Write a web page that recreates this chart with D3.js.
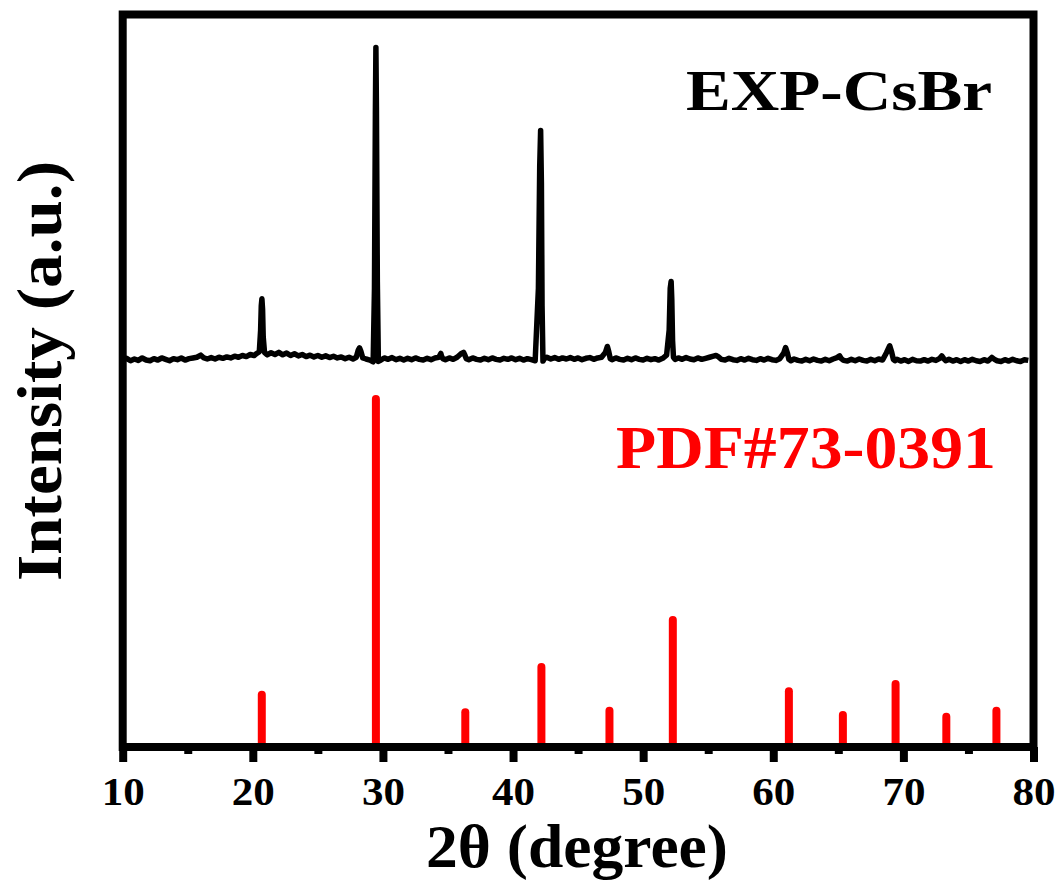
<!DOCTYPE html>
<html>
<head>
<meta charset="utf-8">
<script src="https://cdn.jsdelivr.net/npm/d3@7"></script>
<style>
  body { margin: 0; background: #fff; }
  svg text { font-family: "Liberation Serif", "Times New Roman", serif; font-weight: bold; }
</style>
</head>
<body>
<div id="chart"></div>
<script>
// reference pattern PDF#73-0391 (relative intensity, %)
var refTheta = [20.69, 29.46, 36.33, 42.18, 47.41, 52.28, 61.2, 65.35, 69.4, 73.3, 77.15];
var refIntensity = [15, 100, 10, 23, 10.4, 36.5, 16, 9.2, 18.1, 8.7, 10.4];

// measured pattern (arbitrary units, above its own baseline)
var expTheta = [
    10.0, 10.3, 10.6, 10.9, 11.2, 11.5, 11.8, 12.1, 12.4, 12.7, 13.0, 13.3, 13.6, 13.9, 14.2, 14.5, 14.8,
    15.1, 15.4, 15.7, 16.0, 16.2, 16.5, 16.8, 17.1, 17.4, 17.7, 18.0, 18.3, 18.6, 18.9, 19.2, 19.5, 19.8,
    20.1, 20.3, 20.5, 20.6, 20.65, 20.7, 20.75, 20.8, 20.9, 21.1, 21.4, 21.7, 22.0, 22.3, 22.6, 22.9,
    23.2, 23.5, 23.8, 24.1, 24.4, 24.7, 25.0, 25.3, 25.6, 25.9, 26.2, 26.5, 26.8, 27.1, 27.4, 27.7,
    27.95, 28.1, 28.2, 28.3, 28.45, 28.7, 29.0, 29.25, 29.35, 29.42, 29.46, 29.5, 29.57, 29.65, 29.85,
    30.1, 30.4, 30.7, 31.0, 31.3, 31.6, 31.9, 32.2, 32.5, 32.8, 33.1, 33.4, 33.7, 34.0, 34.3, 34.45, 34.5,
    34.6, 34.8, 35.1, 35.4, 35.7, 36.0, 36.2, 36.3, 36.4, 36.6, 36.9, 37.2, 37.5, 37.8, 38.1, 38.4, 38.7,
    39.0, 39.3, 39.6, 39.9, 40.2, 40.5, 40.8, 41.1, 41.4, 41.7, 41.95, 42.05, 42.12, 42.18, 42.23, 42.3,
    42.4, 42.6, 42.9, 43.2, 43.5, 43.8, 44.1, 44.4, 44.7, 45.0, 45.3, 45.6, 45.9, 46.2, 46.5, 46.8, 47.1,
    47.25, 47.36, 47.47, 47.6, 47.9, 48.2, 48.5, 48.8, 49.1, 49.4, 49.7, 50.0, 50.3, 50.6, 50.9, 51.2,
    51.5, 51.8, 52.0, 52.08, 52.15, 52.2, 52.26, 52.33, 52.45, 52.7, 53.0, 53.3, 53.6, 53.9, 54.2, 54.5,
    54.8, 55.1, 55.4, 55.6, 55.8, 56.0, 56.3, 56.6, 56.9, 57.2, 57.5, 57.8, 58.1, 58.4, 58.7, 59.0, 59.3,
    59.6, 59.9, 60.2, 60.5, 60.8, 60.95, 61.08, 61.2, 61.35, 61.6, 61.9, 62.2, 62.5, 62.8, 63.1, 63.4,
    63.7, 64.0, 64.3, 64.6, 64.9, 65.1, 65.23, 65.4, 65.7, 66.0, 66.3, 66.6, 66.9, 67.2, 67.5, 67.8,
    68.1, 68.4, 68.7, 68.95, 69.1, 69.23, 69.35, 69.5, 69.8, 70.1, 70.4, 70.7, 71.0, 71.3, 71.6, 71.9,
    72.2, 72.5, 72.8, 72.95, 73.1, 73.25, 73.5, 73.8, 74.1, 74.4, 74.7, 75.0, 75.3, 75.6, 75.9, 76.2,
    76.5, 76.8, 77.0, 77.2, 77.5, 77.8, 78.1, 78.4, 78.7, 79.0, 79.3, 79.6, 79.9
];
var expIntensity = [
    -0.6, -0.1, -0.8, -0.3, -0.7, 0.0, -0.6, -0.8, -0.2, -0.6, 0.0, -0.4, -0.8, -0.2, -0.5, 0.0, -0.6,
    -0.2, 0.0, 0.2, 0.8, 0.1, -0.3, 0.1, -0.3, 0.2, -0.1, 0.3, 0.0, 0.5, 0.2, 0.7, 0.4, 1.0,
    0.7, 1.3, 1.8, 8, 15, 17, 14, 6, 1.6, 0.9, 1.5, 1.0, 1.6, 0.9, 1.4, 0.7,
    1.2, 0.6, 1.0, 0.4, 0.8, 0.3, 0.7, 0.2, 0.6, 0.1, 0.5, 0.0, 0.3, -0.2, 0.2, -0.3,
    0.2, 2.2, 2.9, 2.0, 0.0, -0.3, -0.6, -1.1, 20, 70, 89.2, 72, 22, -1.0, -0.6,
    0.0, -0.4, 0.1, -0.5, -0.1, -0.6, -0.1, -0.5, 0.0, -0.4, -0.6, -0.1, -0.5, 0.0, 0.2, 1.3,
    0.6, -0.2, -0.5, 0.0, -0.4, 0.2, 1.2, 1.6, 0.8, -0.2, -0.5, 0.0, -0.4, -0.6, -0.1, -0.5, 0.0,
    -0.4, -0.6, -0.1, -0.4, 0.0, -0.5, -0.1, -0.6, -0.2, -0.5, -0.8, 20, 55, 65.4, 50, 15,
    -0.9, -0.2, 0.2, -0.3, 0.1, -0.4, 0.0, -0.3, 0.1, -0.4, 0.0, -0.5, -0.1, 0.1, -0.4, 0.0, 0.2,
    1.6, 3.3, 1.8, -0.2, -0.5, 0.0, -0.4, -0.6, -0.1, -0.5, 0.0, -0.4, -0.6, -0.1, -0.5, -0.2,
    -0.6, -0.1, 0.8, 8, 20, 22, 17, 5, 0.2, -0.4, 0.0, -0.4, 0.1, -0.3, -0.5, 0.0,
    -0.4, -0.1, 0.2, 0.5, 0.7, 0.3, -0.4, -0.6, -0.1, -0.5, -0.7, -0.2, -0.6, -0.1, -0.5, -0.7, -0.2,
    -0.6, -0.1, -0.5, -0.7, -0.2, 1.4, 3.0, 1.5, -0.4, -0.8, -0.3, -0.7, -0.9, -0.4, -0.8, -0.3,
    -0.7, -0.9, -0.4, -0.8, -0.3, 0.1, 0.6, -0.2, -0.7, -0.9, -0.4, -0.8, -0.3, -0.7, -0.9, -0.4,
    -0.8, -0.3, -0.6, 1.5, 3.5, 1.7, -0.4, -0.8, -0.4, -0.9, -0.5, -1.0, -0.4, -0.8, -0.9, -0.5,
    -0.9, -0.4, -0.7, -0.1, 0.6, -0.2, -0.8, -0.4, -0.9, -0.5, -1.0, -0.5, -0.9, -0.4, -0.8, -1.0,
    -0.5, -0.9, 0.15, -0.4, -0.8, -1.0, -0.5, -0.9, -0.4, -0.8, -1.0, -0.5, -0.7
];
var expOffset = 111.8;

var xTicks = [10, 20, 30, 40, 50, 60, 70, 80];
var xMinorTicks = [15, 25, 35, 45, 55, 65, 75];

var width = 1059, height = 883;
var svg = d3.select("#chart").append("svg")
    .attr("width", width)
    .attr("height", height);

var x = d3.scaleLinear().domain([10, 80]).range([122.7, 1033.5]);
var y = d3.scaleLinear().domain([0, 210.5]).range([747, 14.5]);

// PDF card sticks
svg.selectAll(".stick")
    .data(refTheta)
    .join("line")
    .attr("class", "stick")
    .attr("x1", function (d) { return x(d); })
    .attr("x2", function (d) { return x(d); })
    .attr("y1", y(0))
    .attr("y2", function (d, i) { return y(refIntensity[i]); })
    .attr("stroke", "#ff0000")
    .attr("stroke-width", 8)
    .attr("stroke-linecap", "round");

// measured XRD curve
var expData = expTheta.map(function (t, i) { return [t, expIntensity[i] + expOffset]; });
svg.append("path")
    .datum(expData)
    .attr("fill", "none")
    .attr("stroke", "#000")
    .attr("stroke-width", 5.5)
    .attr("stroke-linejoin", "round")
    .attr("d", d3.line()
        .x(function (d) { return x(d[0]); })
        .y(function (d) { return y(d[1]); }));

// frame
svg.append("rect")
    .attr("x", x(10))
    .attr("y", y(210.5))
    .attr("width", x(80) - x(10))
    .attr("height", y(0) - y(210.5))
    .attr("fill", "none")
    .attr("stroke", "#000")
    .attr("stroke-width", 8);

// bottom axis
var xAxis = svg.append("g")
    .attr("transform", "translate(0," + y(0) + ")")
    .call(d3.axisBottom(x).tickValues(xTicks).tickSize(15).tickPadding(14));
xAxis.select(".domain").remove();
xAxis.selectAll(".tick line").attr("stroke-width", 8).attr("y1", 0);
xAxis.selectAll(".tick text")
    .attr("font-size", 41)
    .attr("fill", "#000")
    .attr("transform", "scale(1.05,1)")
    .style("font-family", "'Liberation Serif', 'Times New Roman', serif")
    .style("font-weight", "bold");

var xMinor = svg.append("g")
    .attr("transform", "translate(0," + y(0) + ")")
    .call(d3.axisBottom(x).tickValues(xMinorTicks).tickSize(7).tickFormat(""));
xMinor.select(".domain").remove();
xMinor.selectAll(".tick line").attr("stroke-width", 8);

// axis titles
svg.append("text")
    .attr("x", 577)
    .attr("y", 867)
    .attr("text-anchor", "middle")
    .attr("font-size", 61)
    .attr("textLength", 302)
    .attr("lengthAdjust", "spacingAndGlyphs")
    .text("2θ (degree)");

svg.append("text")
    .attr("transform", "translate(61,371) rotate(-90)")
    .attr("text-anchor", "middle")
    .attr("font-size", 64)
    .attr("textLength", 420)
    .attr("lengthAdjust", "spacingAndGlyphs")
    .text("Intensity (a.u.)");

// labels
svg.append("text")
    .attr("x", 686)
    .attr("y", 110)
    .attr("font-size", 58)
    .attr("textLength", 306)
    .attr("lengthAdjust", "spacingAndGlyphs")
    .text("EXP-CsBr");

svg.append("text")
    .attr("x", 616)
    .attr("y", 468)
    .attr("font-size", 62)
    .attr("textLength", 380)
    .attr("lengthAdjust", "spacingAndGlyphs")
    .attr("fill", "#ff0000")
    .text("PDF#73-0391");
</script>
</body>
</html>
